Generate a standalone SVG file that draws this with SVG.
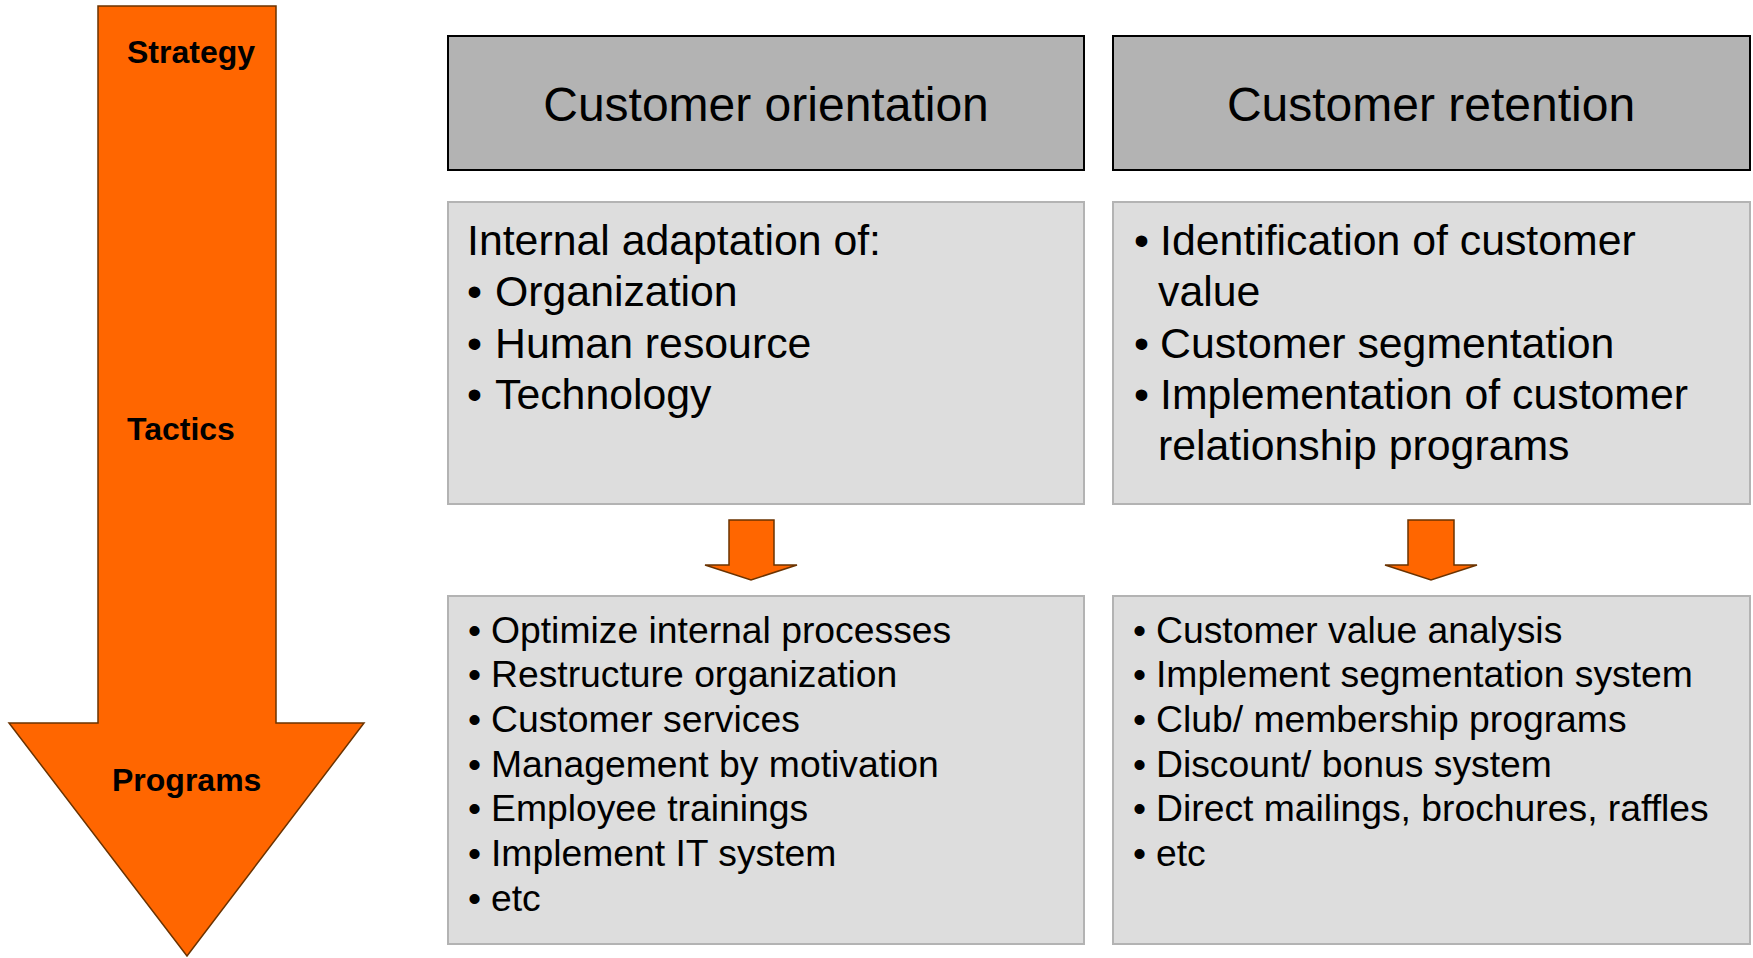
<svg xmlns="http://www.w3.org/2000/svg" width="1753" height="958" viewBox="0 0 1753 958">
<style>
text{font-family:"Liberation Sans",Arial,sans-serif;fill:#000}
.lbl{font-size:32px;font-weight:bold}
.hdr{font-size:48px;text-anchor:middle}
.big{font-size:42.8px}
.sm{font-size:37.3px}
.hbox{fill:#b3b3b3;stroke:#000;stroke-width:2}
.cbox{fill:#dddddd;stroke:#b3b3b3;stroke-width:2}
.arr{fill:#ff6600;stroke:#6b3300;stroke-width:1.5;stroke-linejoin:miter}
</style>
<rect width="1753" height="958" fill="#fff"/>
<g id="flow-arrow">
<polygon class="arr" points="98,6 276,6 276,723 364,723 187,956 9,723 98,723"/>
<text class="lbl" x="127" y="63">Strategy</text>
<text class="lbl" x="127" y="440">Tactics</text>
<text class="lbl" x="112" y="791">Programs</text>
</g>
<g id="hdr-orientation">
<rect class="hbox" x="448" y="36" width="636" height="134"/>
<text class="hdr" x="766" y="121">Customer orientation</text>
</g>
<g id="hdr-retention">
<rect class="hbox" x="1113" y="36" width="637" height="134"/>
<text class="hdr" x="1431" y="121">Customer retention</text>
</g>
<g id="tactics-orientation">
<rect class="cbox" x="448" y="202" width="636" height="302"/>
<text class="big" x="467" y="255">Internal adaptation of:</text>
<text class="big" x="467" y="306">•</text><text class="big" x="495" y="306">Organization</text>
<text class="big" x="467" y="358">•</text><text class="big" x="495" y="358">Human resource</text>
<text class="big" x="467" y="409">•</text><text class="big" x="495" y="409">Technology</text>
</g>
<g id="tactics-retention">
<rect class="cbox" x="1113" y="202" width="637" height="302"/>
<text class="big" x="1134" y="255">•</text><text class="big" x="1160" y="255">Identification of customer</text>
<text class="big" x="1158" y="306">value</text>
<text class="big" x="1134" y="358">•</text><text class="big" x="1160" y="358">Customer segmentation</text>
<text class="big" x="1134" y="409">•</text><text class="big" x="1160" y="409">Implementation of customer</text>
<text class="big" x="1158" y="460">relationship programs</text>
</g>
<g id="programs-orientation">
<rect class="cbox" x="448" y="596" width="636" height="348"/>
<text class="sm" x="468" y="642.5">•</text><text class="sm" x="491" y="642.5">Optimize internal processes</text>
<text class="sm" x="468" y="687.2">•</text><text class="sm" x="491" y="687.2">Restructure organization</text>
<text class="sm" x="468" y="731.9">•</text><text class="sm" x="491" y="731.9">Customer services</text>
<text class="sm" x="468" y="776.6">•</text><text class="sm" x="491" y="776.6">Management by motivation</text>
<text class="sm" x="468" y="821.3">•</text><text class="sm" x="491" y="821.3">Employee trainings</text>
<text class="sm" x="468" y="866">•</text><text class="sm" x="491" y="866">Implement IT system</text>
<text class="sm" x="468" y="910.7">•</text><text class="sm" x="491" y="910.7">etc</text>
</g>
<g id="programs-retention">
<rect class="cbox" x="1113" y="596" width="637" height="348"/>
<text class="sm" x="1133" y="642.5">•</text><text class="sm" x="1156" y="642.5">Customer value analysis</text>
<text class="sm" x="1133" y="687.2">•</text><text class="sm" x="1156" y="687.2">Implement segmentation system</text>
<text class="sm" x="1133" y="731.9">•</text><text class="sm" x="1156" y="731.9">Club/ membership programs</text>
<text class="sm" x="1133" y="776.6">•</text><text class="sm" x="1156" y="776.6">Discount/ bonus system</text>
<text class="sm" x="1133" y="821.3">•</text><text class="sm" x="1156" y="821.3">Direct mailings, brochures, raffles</text>
<text class="sm" x="1133" y="866">•</text><text class="sm" x="1156" y="866">etc</text>
</g>
<g id="connectors">
<polygon class="arr" points="729,520 774,520 774,565 797,565 751,580 705,565 729,565"/>
<polygon class="arr" points="1408,520 1454,520 1454,565 1477,565 1431,580 1385,565 1408,565"/>
</g>
</svg>
